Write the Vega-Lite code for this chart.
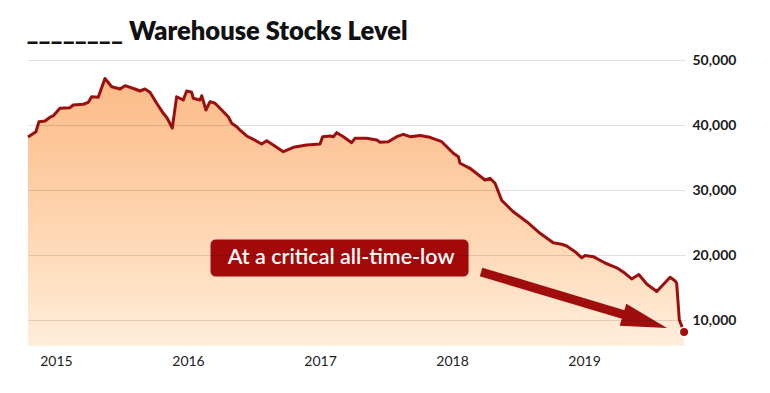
{
  "$schema": "https://vega.github.io/schema/vega-lite/v6.json",
  "width": 657,
  "height": 306,
  "autosize": "none",
  "padding": {"left": 28, "top": 40, "right": 85, "bottom": 47},
  "background": "white",
  "title": {"text": "________ Warehouse Stocks Level", "anchor": "start", "font": "Lato", "fontSize": 25.5, "fontWeight": 800, "color": "#111111", "offset": 2, "dy": 7},
  "datasets": {
    "stocks": [
      {"year": 2014.788, "value": 38150}, {"year": 2014.848, "value": 38970}, {"year": 2014.871, "value": 40510},
      {"year": 2014.917, "value": 40620}, {"year": 2014.955, "value": 41190}, {"year": 2014.980, "value": 41430},
      {"year": 2015.030, "value": 42570}, {"year": 2015.106, "value": 42660}, {"year": 2015.131, "value": 43080},
      {"year": 2015.207, "value": 43190}, {"year": 2015.245, "value": 43490}, {"year": 2015.270, "value": 44350},
      {"year": 2015.320, "value": 44260}, {"year": 2015.371, "value": 47150}, {"year": 2015.422, "value": 45890},
      {"year": 2015.485, "value": 45540}, {"year": 2015.523, "value": 46050}, {"year": 2015.598, "value": 45540},
      {"year": 2015.636, "value": 45230}, {"year": 2015.674, "value": 45540}, {"year": 2015.712, "value": 45030},
      {"year": 2015.763, "value": 43340}, {"year": 2015.813, "value": 41800}, {"year": 2015.843, "value": 41030},
      {"year": 2015.881, "value": 39540}, {"year": 2015.914, "value": 44350}, {"year": 2015.964, "value": 43850},
      {"year": 2015.990, "value": 45230}, {"year": 2016.028, "value": 45030}, {"year": 2016.040, "value": 44110},
      {"year": 2016.091, "value": 43850}, {"year": 2016.104, "value": 44510}, {"year": 2016.136, "value": 42310},
      {"year": 2016.167, "value": 43590}, {"year": 2016.205, "value": 43340}, {"year": 2016.305, "value": 41280},
      {"year": 2016.331, "value": 40260}, {"year": 2016.369, "value": 39740}, {"year": 2016.394, "value": 39230},
      {"year": 2016.445, "value": 38310}, {"year": 2016.495, "value": 37800}, {"year": 2016.558, "value": 37080},
      {"year": 2016.596, "value": 37590}, {"year": 2016.646, "value": 36920}, {"year": 2016.722, "value": 35890},
      {"year": 2016.798, "value": 36570}, {"year": 2016.899, "value": 36920}, {"year": 2017.000, "value": 37080},
      {"year": 2017.020, "value": 38200}, {"year": 2017.076, "value": 38310}, {"year": 2017.101, "value": 38200},
      {"year": 2017.127, "value": 38820}, {"year": 2017.177, "value": 38200}, {"year": 2017.240, "value": 37280},
      {"year": 2017.265, "value": 37950}, {"year": 2017.354, "value": 37950}, {"year": 2017.430, "value": 37690},
      {"year": 2017.455, "value": 37340}, {"year": 2017.517, "value": 37430}, {"year": 2017.581, "value": 38200},
      {"year": 2017.631, "value": 38570}, {"year": 2017.682, "value": 38200}, {"year": 2017.758, "value": 38390},
      {"year": 2017.833, "value": 38110}, {"year": 2017.922, "value": 37430}, {"year": 2017.985, "value": 36150},
      {"year": 2018.010, "value": 35650}, {"year": 2018.048, "value": 35120}, {"year": 2018.061, "value": 34110},
      {"year": 2018.136, "value": 33340}, {"year": 2018.250, "value": 31540}, {"year": 2018.288, "value": 31800},
      {"year": 2018.326, "value": 31030}, {"year": 2018.377, "value": 28390}, {"year": 2018.464, "value": 26660},
      {"year": 2018.566, "value": 25120}, {"year": 2018.667, "value": 23340}, {"year": 2018.767, "value": 21890},
      {"year": 2018.831, "value": 21650}, {"year": 2018.869, "value": 21390}, {"year": 2018.932, "value": 20510},
      {"year": 2018.983, "value": 19570}, {"year": 2019.008, "value": 19920}, {"year": 2019.070, "value": 19740},
      {"year": 2019.159, "value": 18770}, {"year": 2019.248, "value": 18030}, {"year": 2019.311, "value": 17190},
      {"year": 2019.361, "value": 16310}, {"year": 2019.415, "value": 17000}, {"year": 2019.475, "value": 15540},
      {"year": 2019.551, "value": 14390}, {"year": 2019.652, "value": 16570}, {"year": 2019.689, "value": 16050},
      {"year": 2019.702, "value": 15650}, {"year": 2019.722, "value": 10000}, {"year": 2019.758, "value": 8150}
    ],
    "box": [{"year": 2016.167, "year2": 2018.129, "value": 22460, "value2": 16620}],
    "label": [{"year": 2017.16, "value": 19540, "label": "At a critical all-time-low"}],
    "shaft": [{"year": 2018.220, "value": 17390, "year2": 2019.348, "value2": 10540}],
    "head": [{"year": 2019.462, "value": 9785}]
  },
  "encoding": {
    "x": {"field": "year", "type": "quantitative", "scale": {"domain": [2014.788, 2019.765], "nice": false, "zero": false},
      "axis": {"values": [2015, 2016, 2017, 2018, 2019], "format": "d", "title": null, "domain": false, "ticks": false, "grid": false,
        "labelFont": "Lato", "labelFontSize": 14, "labelColor": "#222222", "labelPadding": 8, "labelFlush": false}},
    "y": {"field": "value", "type": "quantitative", "scale": {"domain": [6000, 53077], "nice": false, "zero": false},
      "axis": {"orient": "right", "values": [10000, 20000, 30000, 40000, 50000], "format": ",d", "title": null, "domain": false, "ticks": false,
        "grid": true, "gridColor": "#000000", "gridOpacity": 0.12, "labelFont": "Lato", "labelFontSize": 14, "labelFontWeight": "bold",
        "labelColor": "#1a1a1a", "labelPadding": 7, "zindex": 1}}
  },
  "layer": [
    {"data": {"name": "stocks"}, "mark": {"type": "area", "clip": true, "color": {"gradient": "linear", "x1": 0, "y1": 0, "x2": 0, "y2": 1,
      "stops": [{"offset": 0, "color": "#fcbb88"}, {"offset": 0.55, "color": "#fed9b7"}, {"offset": 1, "color": "#fff6ea"}]}}},
    {"data": {"name": "stocks"}, "mark": {"type": "line", "color": "#9c0f0f", "strokeWidth": 3, "strokeJoin": "round"}},
    {"data": {"name": "stocks"}, "transform": [{"filter": "datum.year > 2019.75"}],
      "mark": {"type": "point", "filled": true, "opacity": 1, "color": "#a50d0d", "size": 90, "stroke": "white", "strokeWidth": 1.5}},
    {"data": {"name": "shaft"}, "mark": {"type": "rule", "color": "#a00d0d", "strokeWidth": 9, "strokeCap": "butt"},
      "encoding": {"x2": {"field": "year2"}, "y2": {"field": "value2"}}},
    {"data": {"name": "head"}, "mark": {"type": "point", "filled": true, "opacity": 1, "color": "#a00d0d", "size": 2116, "angle": 16.7,
      "shape": "M -1 -0.5 L 1 0 L -1 0.5 Z"}},
    {"data": {"name": "box"}, "mark": {"type": "rect", "color": "#a20a0a", "cornerRadius": 6, "stroke": "#f5d3c3", "strokeWidth": 1},
      "encoding": {"x2": {"field": "year2"}, "y2": {"field": "value2"}}},
    {"data": {"name": "label"}, "mark": {"type": "text", "color": "white", "font": "Lato", "fontSize": 21.5, "fontWeight": 600, "align": "center", "baseline": "middle"},
      "encoding": {"text": {"field": "label"}}}
  ],
  "config": {"view": {"stroke": null}, "font": "Lato"}
}
